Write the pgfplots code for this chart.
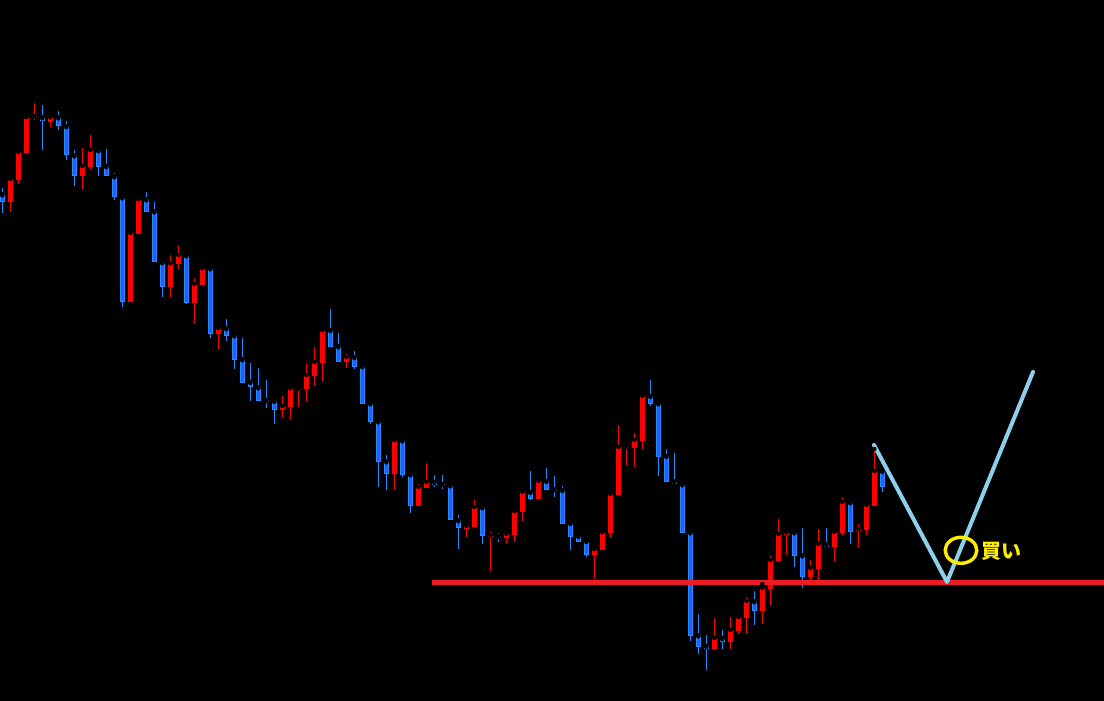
\documentclass[border=0pt]{standalone}
\usepackage{pgfplots}
\usepackage{pgfplotstable}
\pgfplotsset{compat=1.18}
\usepackage{fontspec}
\newfontfamily\jp{Noto Sans CJK JP}
\definecolor{redc}{HTML}{FF0000}
\definecolor{bwick}{HTML}{1E90FF}
\definecolor{bfill}{HTML}{3355FF}
\definecolor{hline}{HTML}{ED1C24}
\definecolor{vline}{HTML}{8ED0EA}
\definecolor{yel}{HTML}{FFEE00}
\pgfplotstableread{
i wt wb bt bb
0 186 212.7 194.3 202.3
5 103 149.7 117.3 121.3
7 109 129.7 117.3 126.3
8 119 159.7 126.3 155.3
9 148 185.7 155.3 176.3
12 150.3 175.7 150.3 166.7
13 147 176.3 166.3 176.3
14 171 199.7 176.3 197.3
15 197.3 306.7 197.3 302.3
18 190 211.7 199.3 211.7
19 200 262.3 211.3 262.3
20 262.3 296.7 262.3 286.7
23 255.3 303.7 255.3 303
26 268.3 337.7 268.3 333.7
28 317 341 328.3 335.7
29 333 369 335.3 359.7
30 336 382.7 359.3 382.7
31 361 400.7 382 387.3
32 366 400.7 387.3 400.7
33 378 408 400 401.7
34 400 423.7 401 409.7
41 307 346.7 330 346.7
42 331 361.7 346.3 361.7
44 349 368.7 357 366.7
45 366.3 403.7 366.3 403.7
46 403.3 423.7 403.3 421.7
47 421.3 487 421.3 461.7
48 453 489.7 461.3 473.7
50 440.3 476.7 440.3 474.7
51 474.3 512.7 474.3 505.7
54 473 486.7 482 484.7
55 473 488.7 484 485.7
56 485.3 520.3 485.3 520.3
57 513 548.7 520.3 528.3
60 505 543.7 507.3 536.3
62 531 541.7 536 537.7
66 469 500 492 498.7
68 466 489.7 481 489.7
69 474 496.7 489 490.7
70 484 523.7 490 523.7
71 523 550 523 536.7
72 532 541.7 536 541.7
73 541 557 541 554.7
81 378 405.7 396 403.7
82 403.3 476 403.3 456.7
83 447 481.7 456 481.7
84 451 484.3 481.3 484.3
85 484.3 532.7 484.3 532.7
86 532.3 640.7 532.3 635.7
87 612 653.7 635.3 646.7
88 633 669.7 646 648.7
90 628 648.7 638.3 641.7
94 589 624.7 601.3 610.7
99 532.3 566.7 532.3 555.7
100 526 587.7 555.3 576.7
103 526 547.3 544.3 547.3
106 502.3 543.7 502.3 531.7
110 471 491.7 471 487.3
}\bluetab
\pgfplotstableread{
i wt wb bt bb
1 178.3 211.7 179 202.3
2 151 184.3 152 179.7
3 117 152.7 117 152.7
4 101 119.7 116.5 118
6 114 126.7 117.3 121.7
10 146 190 166 176.3
11 132.7 168.7 150 166.7
16 230 302.3 233 302.3
17 199 233.7 199 233.7
21 253 296.7 263.3 286.7
22 243 269 255 263.7
24 276 323.7 284 303
25 268 285 268 285
27 328 349 328 333.7
35 394 417 406 410
36 388 419.7 388 407
37 388.3 407 387.8 389.3
38 362 401 375 389
39 345 385.7 362 376
40 330 381 330 363
43 352 367.7 357 361.7
49 440 489.7 440 473.7
52 481.7 505.7 487 505.7
53 461 487.7 482 487.7
58 524 536.7 526 528.7
59 498 526.7 507 526.7
61 529.3 570.7 535.6 537.1
63 532 542.7 534 537.7
64 511 541.7 511 534.7
65 488 520.7 492 511.7
67 477.3 498.7 481 498.7
74 549 579 549 555
75 532 550 532 550
76 493 538 494 533
77 423 495 447 495
78 444 465 446.6 448.1
79 431 467 440 448
80 394 449 396 441
89 616 648.7 638 648.7
91 615 648.7 630 641.7
92 616 633.7 617 630.7
93 595 633.7 601 617.7
95 584 623.7 588 610.7
96 553 604.7 560 588.7
97 517 560.7 534 560.7
98 532.3 555 532.3 534.7
101 558 580 568 576.7
102 527 580 544 568.7
104 530 560.7 532 547.3
105 495 534.7 502 532.7
107 522 547.7 529 531.3
108 503 534.7 505 529.7
109 449 505.7 471 505.7
}\redtab
\begin{document}
\begin{tikzpicture}
\fill[black] (0,0) rectangle (1104pt,701pt);
\begin{axis}[
  at={(0,0)}, anchor=south west,
  width=1104pt, height=701pt, scale only axis,
  xmin=0, xmax=1104, ymin=0, ymax=701, y dir=reverse,
  hide axis, clip=true,
]
% wicks
\addplot[only marks, mark=none, error bars/.cd, y dir=plus, y explicit, error mark=none,
  error bar style={line width=1pt, draw=bwick}]
  table[x expr=2.3+8*\thisrow{i}, y=wt, y error plus expr={\thisrow{wb}-\thisrow{wt}}] {\bluetab};
\addplot[only marks, mark=none, error bars/.cd, y dir=plus, y explicit, error mark=none,
  error bar style={line width=1pt, draw=redc}]
  table[x expr=2.3+8*\thisrow{i}, y=wt, y error plus expr={\thisrow{wb}-\thisrow{wt}}] {\redtab};
% bodies
\addplot[only marks, mark=none, error bars/.cd, y dir=plus, y explicit, error mark=none,
  error bar style={line width=5pt, draw=bwick}]
  table[x expr=2.3+8*\thisrow{i}, y=bt, y error plus expr={max(\thisrow{bb}-\thisrow{bt},1.2)}] {\bluetab};
\addplot[only marks, mark=none, error bars/.cd, y dir=plus, y explicit, error mark=none,
  error bar style={line width=3pt, draw=bfill}]
  table[x expr=2.3+8*\thisrow{i}, y expr=\thisrow{bt}+1, y error plus expr={max(\thisrow{bb}-\thisrow{bt}-2,0)}] {\bluetab};
\addplot[only marks, mark=none, error bars/.cd, y dir=plus, y explicit, error mark=none,
  error bar style={line width=5pt, draw=redc}]
  table[x expr=2.3+8*\thisrow{i}, y=bt, y error plus expr={max(\thisrow{bb}-\thisrow{bt},1.2)}] {\redtab};
% support line
\addplot[draw=hline, line width=4.5pt] coordinates {(432,582.3) (1104,582.3)};
% projected path
\addplot[draw=vline, line width=4pt, line join=round, line cap=round] coordinates {(874,445) (947,582) (1033,372)};
\draw[draw=yel, line width=3.4pt] (axis cs:961,550.3) ellipse [x radius=15.8pt, y radius=13pt];
\node[anchor=west, inner sep=0pt, text=yel, font=\jp\bfseries\fontsize{20}{20}\selectfont] at (axis cs:981.5,551) {買い};
\end{axis}
\pgfresetboundingbox
\path (0,0) rectangle (1104pt,701pt);
\end{tikzpicture}
\end{document}
